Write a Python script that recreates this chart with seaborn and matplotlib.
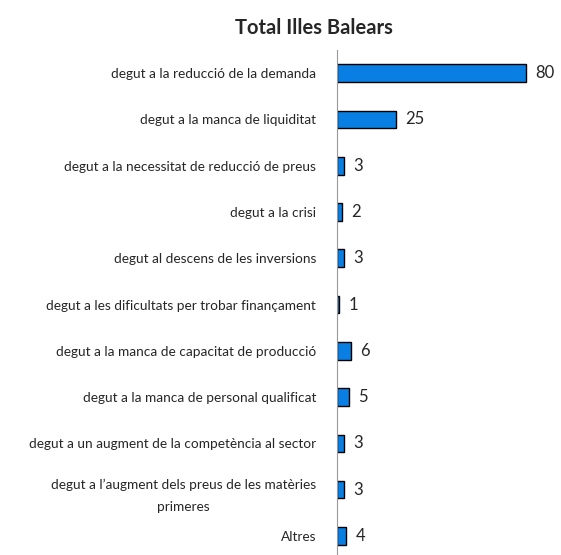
import numpy as np
import pandas as pd
import seaborn as sns
import matplotlib.pyplot as plt

categories = [
    "degut a la reducció de la demanda",
    "degut a la manca de liquiditat",
    "degut a la necessitat de reducció de preus",
    "degut a la crisi",
    "degut al descens de les inversions",
    "degut a les dificultats per trobar finançament",
    "degut a la manca de capacitat de producció",
    "degut a la manca de personal qualificat",
    "degut a un augment de la competència al sector",
    "degut a l\u2019augment dels preus de les matèries\nprimeres",
    "Altres",
]
values = [80, 25, 3, 2, 3, 1, 6, 5, 3, 3, 4]

df = pd.DataFrame({"motiu": categories, "valor": values})

sns.set_style("white")
plt.rcParams['font.family'] = ['Lato', 'DejaVu Sans']

fig = plt.figure(figsize=(5.61, 5.55), dpi=100)
ax = fig.add_axes([0.6007, -0.0072, 0.379, 0.917])

sns.barplot(data=df, x="valor", y="motiu", orient="h", color="#0A7FE3",
            edgecolor="black", linewidth=1.0, width=0.38, saturation=1, ax=ax)

# value labels
for p, v in zip(ax.patches, values):
    ax.text(p.get_width() + 4, p.get_y() + p.get_height() / 2, str(v),
            va="center", ha="left", fontsize=12)

ax.set_xlim(0, 90)
ax.set_ylim(len(categories) - 0.5, -0.5)
ax.set_xlabel("")
ax.set_ylabel("")
ax.set_xticks([])

# ticks at the category boundaries, labels at centres
ax.set_yticks(np.arange(-0.5, len(categories)), minor=True)
ax.tick_params(axis="y", which="major", length=0, pad=15, labelsize=9.8)
ax.tick_params(axis="y", which="minor", length=5, width=1, color="#999999", direction="out")
for lbl in ax.get_yticklabels():
    lbl.set_multialignment("center")
    lbl.set_linespacing(2.0)

for s in ["top", "right", "bottom"]:
    ax.spines[s].set_visible(False)
ax.spines["left"].set_color("#999999")

fig.text(0.56, 0.95, "Total Illes Balears", ha="center", va="center",
         fontsize=14.5, fontweight="bold")

plt.savefig("out.png", dpi=100)
